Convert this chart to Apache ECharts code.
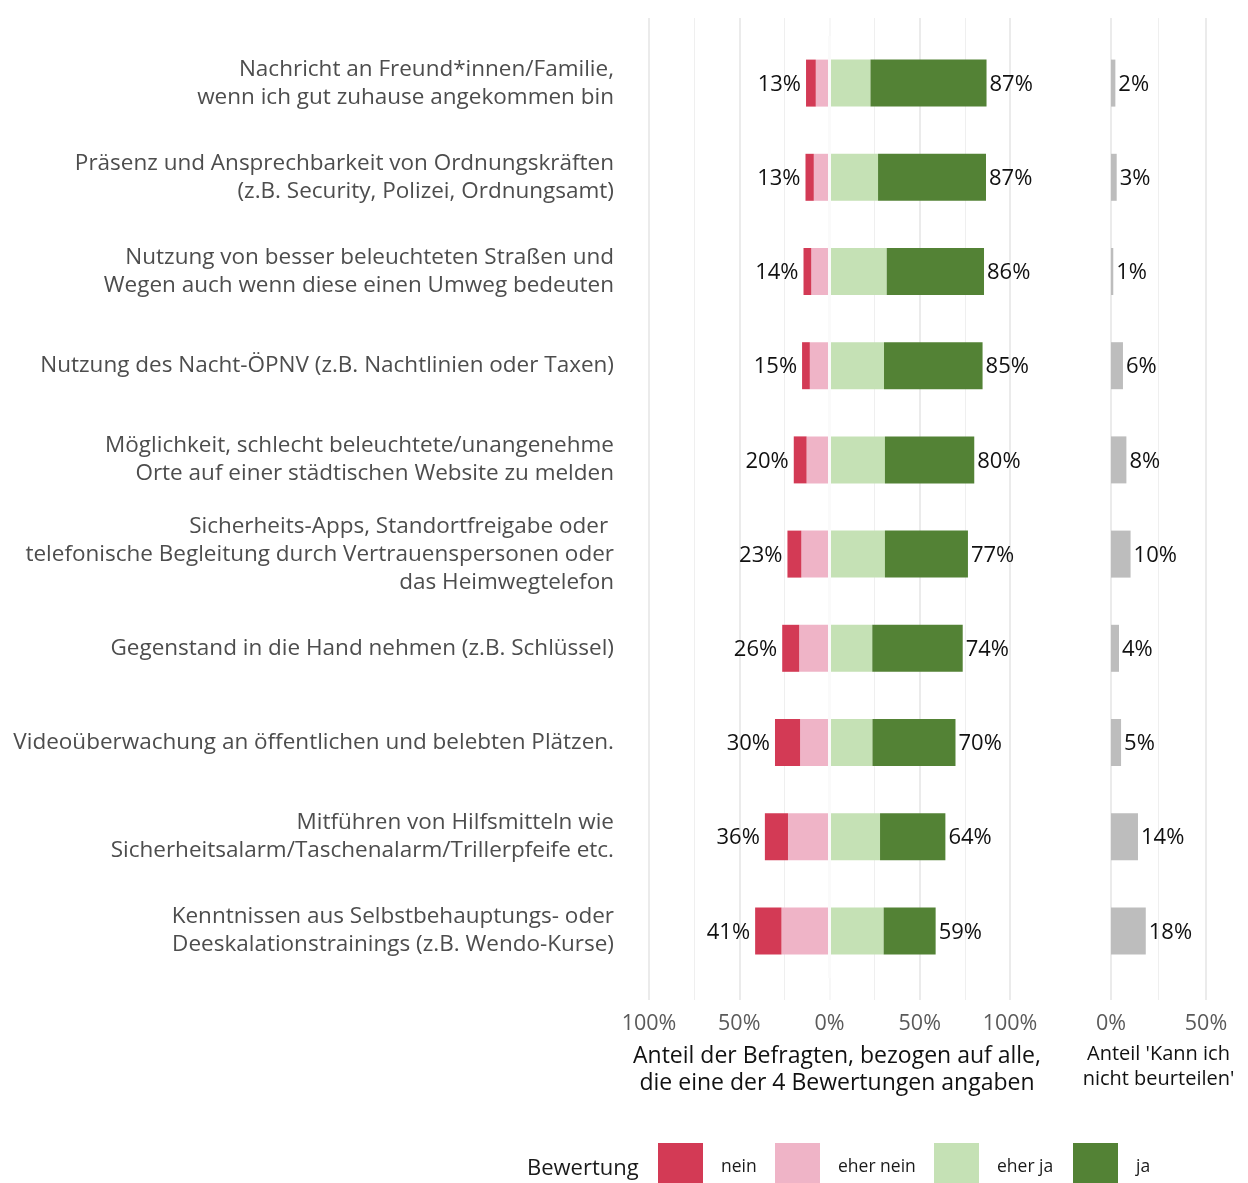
<!DOCTYPE html>
<html>
<head>
<meta charset="utf-8">
<script src="https://cdn.jsdelivr.net/npm/echarts@6/dist/echarts.min.js"></script>
<style>
  html, body { margin: 0; padding: 0; background: #ffffff; }
  #chart { width: 1248px; height: 1183px; }
</style>
</head>
<body>
<div id="chart"></div>
<script>
// Maßnahmen (von oben nach unten)
const categories = [
  'Nachricht an Freund*innen/Familie,\nwenn ich gut zuhause angekommen bin',
  'Präsenz und Ansprechbarkeit von Ordnungskräften\n(z.B. Security, Polizei, Ordnungsamt)',
  'Nutzung von besser beleuchteten Straßen und\nWegen auch wenn diese einen Umweg bedeuten',
  'Nutzung des Nacht-ÖPNV (z.B. Nachtlinien oder Taxen)',
  'Möglichkeit, schlecht beleuchtete/unangenehme\nOrte auf einer städtischen Website zu melden',
  'Sicherheits-Apps, Standortfreigabe oder \ntelefonische Begleitung durch Vertrauenspersonen oder\ndas Heimwegtelefon',
  'Gegenstand in die Hand nehmen (z.B. Schlüssel)',
  'Videoüberwachung an öffentlichen und belebten Plätzen.',
  'Mitführen von Hilfsmitteln wie\nSicherheitsalarm/Taschenalarm/Trillerpfeife etc.',
  'Kenntnissen aus Selbstbehauptungs- oder\nDeeskalationstrainings (z.B. Wendo-Kurse)'
];

// Anteile in %, bezogen auf alle mit einer der 4 Bewertungen
const nein      = [5.4, 4.6, 4.3, 4.3, 7.1, 7.7, 9.4, 13.9, 12.8, 14.6];
const eherNein  = [7.6, 8.7, 10.1, 10.9, 12.7, 15.6, 16.8, 16.3, 23.0, 26.6];
const eherJa    = [22.7, 26.9, 31.7, 30.2, 30.7, 30.7, 23.7, 23.8, 28.0, 30.0];
const ja        = [64.3, 59.8, 53.9, 54.6, 49.5, 46.0, 50.1, 46.0, 36.2, 28.8];

// Anteil 'Kann ich nicht beurteilen' in %
const kannNicht = [2.3, 3.0, 1.2, 6.3, 8.1, 10.3, 4.2, 5.3, 14.2, 18.3];

// Achsenbeschriftungen
const mainTicks = [-100, -50, 0, 50, 100];
const sideTicks = [0, 50];

const colors = {
  nein: '#d33a55',
  eherNein: '#efb4c7',
  eherJa: '#c5e1b5',
  ja: '#538235',
  kann: '#bdbdbd'
};

const FONT = '"Open Sans", "Noto Sans", sans-serif';
const pct = v => Math.abs(v) + '%';

const chart = echarts.init(document.getElementById('chart'), null, { renderer: 'canvas' });

const barWidth = 47;
const valueLabel = {
  fontFamily: FONT,
  fontSize: 22,
  color: '#111111',
  offset: [0, 1.5]
};

function legendFor(name, left) {
  return {
    data: [name],
    left: left,
    top: 1143,
    padding: 0,
    orient: 'horizontal',
    icon: 'rect',
    itemWidth: 45,
    itemHeight: 48,
    selectedMode: false,
    textStyle: { fontFamily: FONT, fontSize: 17.5, color: '#1a1a1a', padding: [0, 0, 0, 13] }
  };
}

chart.setOption({
  animation: false,
  backgroundColor: '#ffffff',
  textStyle: { fontFamily: FONT },
  grid: [
    { left: 649, top: 18, width: 361, height: 982 },
    { left: 649, top: 36, width: 361, height: 942 },
    { left: 1111, top: 18, width: 95, height: 982 },
    { left: 1111, top: 36, width: 95, height: 942 }
  ],
  xAxis: [
    {
      gridIndex: 0, type: 'value',
      min: mainTicks[0], max: mainTicks[mainTicks.length - 1], interval: 50,
      axisLine: { show: false }, axisTick: { show: false },
      axisLabel: { formatter: pct, margin: 13, fontSize: 21.5, color: '#5a5a5a', fontFamily: FONT },
      splitLine: { show: true, lineStyle: { color: ['#e9e9e9', '#e9e9e9', '#f7f7f7', '#e9e9e9', '#e9e9e9'], width: 1.8 } },
      minorTick: { show: false, splitNumber: 2 },
      minorSplitLine: { show: true, lineStyle: { color: '#efefef', width: 1 } },
      name: 'Anteil der Befragten, bezogen auf alle,\ndie eine der 4 Bewertungen angaben',
      nameLocation: 'middle', nameGap: 43,
      nameTextStyle: { fontSize: 23, color: '#111111', lineHeight: 27, fontFamily: FONT, padding: [0, 0, 0, 15] }
    },
    { gridIndex: 1, type: 'value', min: -100, max: 100, show: false },
    {
      gridIndex: 2, type: 'value',
      min: sideTicks[0], max: sideTicks[sideTicks.length - 1], interval: 50,
      axisLine: { show: false }, axisTick: { show: false },
      axisLabel: { formatter: pct, margin: 13, fontSize: 21.5, color: '#5a5a5a', fontFamily: FONT },
      splitLine: { show: true, lineStyle: { color: '#e9e9e9', width: 1.8 } },
      minorTick: { show: false, splitNumber: 2 },
      minorSplitLine: { show: true, lineStyle: { color: '#efefef', width: 1 } },
      name: "Anteil 'Kann ich\nnicht beurteilen'",
      nameLocation: 'middle', nameGap: 42,
      nameTextStyle: { fontSize: 20, color: '#111111', lineHeight: 25, fontFamily: FONT }
    },
    { gridIndex: 3, type: 'value', min: 0, max: 50, show: false }
  ],
  yAxis: [
    { gridIndex: 0, type: 'value', min: 0, max: 1, show: false },
    {
      gridIndex: 1, type: 'category', data: categories, inverse: true,
      axisLine: { show: false }, axisTick: { show: false }, splitLine: { show: false },
      axisLabel: { margin: 35, fontSize: 22.5, lineHeight: 28, color: '#4d4d4d', align: 'right', fontFamily: FONT, padding: [2, 0, 0, 0] }
    },
    { gridIndex: 2, type: 'value', min: 0, max: 1, show: false },
    { gridIndex: 3, type: 'category', data: categories, inverse: true, show: false }
  ],
  legend: [
    legendFor('nein', 658),
    legendFor('eher nein', 775),
    legendFor('eher ja', 934),
    legendFor('ja', 1073)
  ],
  graphic: [
    {
      type: 'text', left: 527, top: 1158,
      style: { text: 'Bewertung', fontFamily: FONT, fontSize: 22, fill: '#1a1a1a' }
    }
  ],
  series: [
    {
      name: 'eher nein', type: 'bar', xAxisIndex: 1, yAxisIndex: 1, stack: 'rating',
      barWidth: barWidth, itemStyle: { color: colors.eherNein },
      data: eherNein.map(v => -v)
    },
    {
      name: 'nein', type: 'bar', xAxisIndex: 1, yAxisIndex: 1, stack: 'rating',
      barWidth: barWidth, itemStyle: { color: colors.nein },
      data: nein.map(v => -v),
      label: Object.assign({
        show: true, position: 'left', distance: 5,
        formatter: p => Math.round(nein[p.dataIndex] + eherNein[p.dataIndex]) + '%'
      }, valueLabel)
    },
    {
      name: 'eher ja', type: 'bar', xAxisIndex: 1, yAxisIndex: 1, stack: 'rating',
      barWidth: barWidth, itemStyle: { color: colors.eherJa },
      data: eherJa,
      markLine: {
        silent: true, symbol: 'none', z: 10,
        label: { show: false },
        lineStyle: { color: '#fafafa', width: 3, type: 'solid' },
        data: [{ xAxis: 0 }]
      }
    },
    {
      name: 'ja', type: 'bar', xAxisIndex: 1, yAxisIndex: 1, stack: 'rating',
      barWidth: barWidth, itemStyle: { color: colors.ja },
      data: ja,
      label: Object.assign({
        show: true, position: 'right', distance: 3,
        formatter: p => Math.round(eherJa[p.dataIndex] + ja[p.dataIndex]) + '%'
      }, valueLabel)
    },
    {
      name: 'Kann ich nicht beurteilen', type: 'bar', xAxisIndex: 3, yAxisIndex: 3,
      barWidth: barWidth, itemStyle: { color: colors.kann },
      data: kannNicht,
      label: Object.assign({
        show: true, position: 'right', distance: 3,
        formatter: p => Math.round(p.value) + '%'
      }, valueLabel)
    }
  ]
});
</script>
</body>
</html>
